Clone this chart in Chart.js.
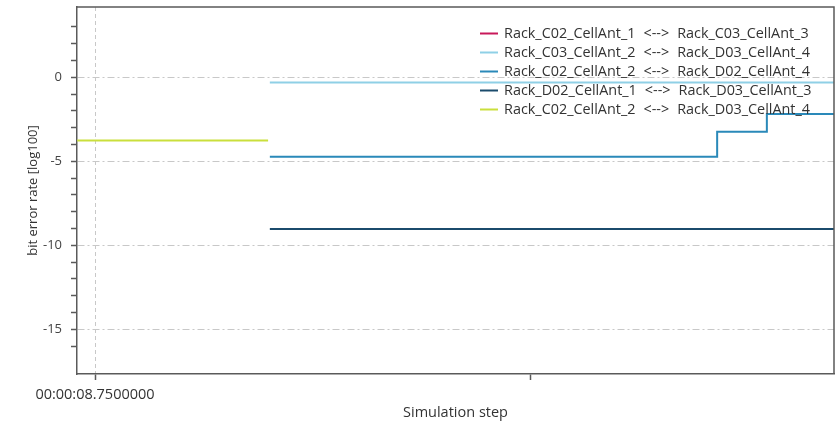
<!DOCTYPE html>
<html><head><meta charset="utf-8">
<script src="https://cdn.jsdelivr.net/npm/chart.js@4/dist/chart.umd.min.js"></script>
<style>html,body{margin:0;padding:0;background:#fff;}#wrap{width:840px;height:424px;position:relative;}</style>
</head><body><div id="wrap"><canvas id="c" width="840" height="424"></canvas></div>
<script>
// ---- data (simulation time in seconds, bit error rate in log100) ----
const seriesLabels = [
  'Rack_C02_CellAnt_1 <--> Rack_C03_CellAnt_3',
  'Rack_C03_CellAnt_2 <--> Rack_D03_CellAnt_4',
  'Rack_C02_CellAnt_2 <--> Rack_D02_CellAnt_4',
  'Rack_D02_CellAnt_1 <--> Rack_D03_CellAnt_3',
  'Rack_C02_CellAnt_2 <--> Rack_D03_CellAnt_4'
];
const c02c03Time = [];
const c02c03Ber = [];
const c03d03Time = [8.75401, 8.76695];
const c03d03Ber = [-0.31, -0.31];
const c02d02Time = [8.75401, 8.76427, 8.76541, 8.76695];
const c02d02Ber = [-4.73, -3.24, -2.19, -2.19];
const d02d03Time = [8.75401, 8.76695];
const d02d03Ber = [-9.03, -9.03];
const c02d03Time = [8.74959, 8.75397];
const c02d03Ber = [-3.77, -3.77];
const xTickValues = [8.75, 8.76];
const xTickLabels = ['00:00:08.7500000', ''];
const yLabelledTicks = [0, -5, -10, -15];
const xRange = [8.749587, 8.766950];
const yRange = [-17.66, 4.18];

const seriesColors = ['#c8195a', '#8fd0e6', '#2a89b9', '#1b4b6c', '#cadf3c'];
const times = [c02c03Time, c03d03Time, c02d02Time, d02d03Time, c02d03Time];
const bers = [c02c03Ber, c03d03Ber, c02d02Ber, d02d03Ber, c02d03Ber];

const datasets = seriesLabels.map((lab, i) => ({
  label: lab,
  data: times[i].map((t, k) => ({x: t, y: bers[i][k]})),
  borderColor: seriesColors[i],
  backgroundColor: seriesColors[i],
  borderWidth: 2,
  pointRadius: 0,
  stepped: true,
  fill: false,
  borderCapStyle: 'butt'
}));

Chart.defaults.font.family = "'Open Sans', 'Noto Sans', sans-serif";
Chart.defaults.color = '#444';

const AXIS = '#5a5a5a';

const legendPlugin = {
  id: 'cornerLegend',
  afterDatasetsDraw(chart) {
    const ctx = chart.ctx;
    ctx.save();
    ctx.font = "14.4px 'Open Sans', 'Noto Sans', sans-serif";
    ctx.textBaseline = 'middle';
    ctx.textAlign = 'left';
    const gap = 8;
    chart.data.datasets.forEach((ds, i) => {
      const y = 33.5 + i * 19;
      ctx.strokeStyle = ds.borderColor;
      ctx.lineWidth = 2;
      ctx.beginPath();
      ctx.moveTo(480, y);
      ctx.lineTo(498, y);
      ctx.stroke();
      ctx.fillStyle = '#333';
      const parts = ds.label.split(' ');
      let x = 504;
      parts.forEach((p) => {
        ctx.fillText(p, x, y);
        x += ctx.measureText(p).width + gap;
      });
    });
    ctx.restore();
  }
};

const framePlugin = {
  id: 'frame',
  afterDraw(chart) {
    const {ctx, chartArea: a} = chart;
    ctx.save();
    ctx.strokeStyle = AXIS;
    ctx.lineWidth = 1.5;
    ctx.beginPath();
    ctx.moveTo(a.left, a.top);
    ctx.lineTo(a.right, a.top);
    ctx.lineTo(a.right, a.bottom);
    ctx.stroke();
    ctx.restore();
  }
};

new Chart(document.getElementById('c'), {
  type: 'line',
  data: {datasets},
  plugins: [legendPlugin, framePlugin],
  options: {
    responsive: false,
    animation: false,
    devicePixelRatio: 1,
    layout: {padding: {top: 7, right: 6, left: 0, bottom: 0}},
    plugins: {legend: {display: false}, tooltip: {enabled: false}},
    scales: {
      x: {
        type: 'linear',
        min: xRange[0],
        max: xRange[1],
        afterBuildTicks: (axis) => { axis.ticks = xTickValues.map(v => ({value: v})); },
        afterFit: (s) => { s.height = 50; s.paddingLeft = 0; s.paddingRight = 0; },
        ticks: {
          autoSkip: false, maxRotation: 0, minRotation: 0,
          padding: 6,
          font: {size: 14.5},
          color: '#333',
          callback: (v, i) => xTickLabels[i]
        },
        grid: {
          color: (c) => (c.index === 0 ? '#c8c8c8' : 'rgba(0,0,0,0)'),
          lineWidth: 1,
          tickLength: 6,
          tickColor: AXIS,
          tickWidth: 1.5
        },
        border: {display: true, color: AXIS, width: 1.5, dash: [4, 3]},
        title: {display: true, text: 'Simulation step', font: {size: 14.5}, color: '#333', padding: {top: 0, bottom: 2}}
      },
      y: {
        type: 'linear',
        min: yRange[0],
        max: yRange[1],
        afterBuildTicks: (axis) => { axis.ticks = axis.ticks.filter(t => Number.isInteger(t.value)); },
        afterFit: (s) => { s.width = 77; s.paddingTop = 0; s.paddingBottom = 0; },
        ticks: {
          stepSize: 1,
          padding: 9,
          font: {size: 13},
          color: '#444',
          callback: (v) => (yLabelledTicks.includes(v) ? String(v) : '')
        },
        grid: {
          color: (c) => (c.tick && yLabelledTicks.includes(c.tick.value) ? '#c8c8c8' : 'rgba(0,0,0,0)'),
          lineWidth: 1,
          tickLength: 6,
          tickColor: AXIS,
          tickWidth: 1.5
        },
        border: {display: true, color: AXIS, width: 1.5, dash: [7, 3, 2, 3]},
        title: {display: true, text: 'bit error rate [log100]', font: {size: 13}, color: '#333', padding: {top: 25, bottom: 0}}
      }
    }
  }
});
</script></body></html>
